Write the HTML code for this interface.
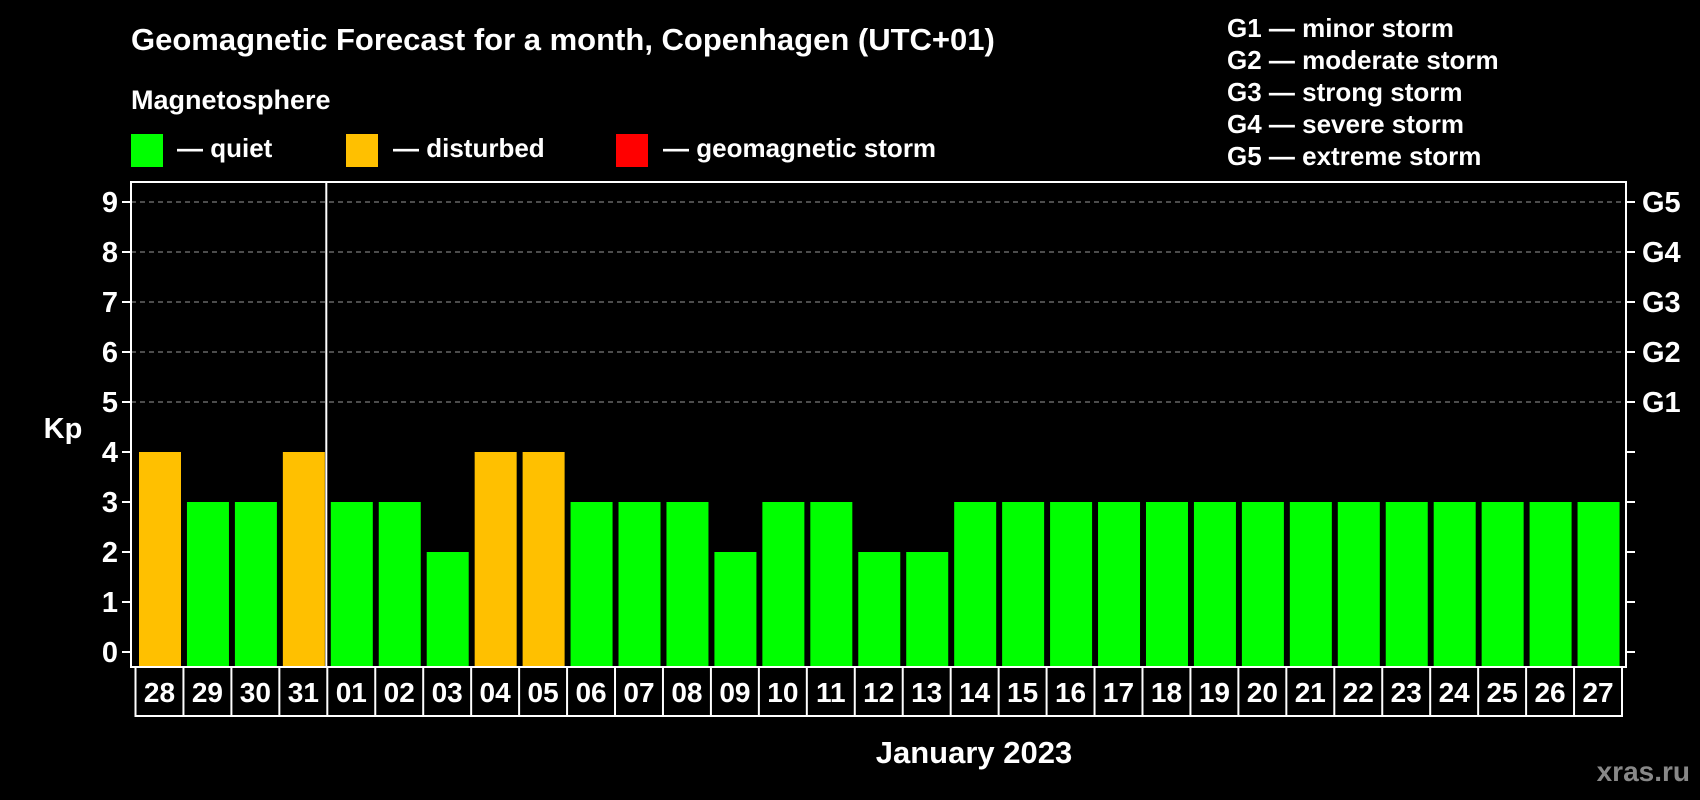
<!DOCTYPE html>
<html><head><meta charset="utf-8"><style>
html,body{margin:0;padding:0;background:#000;}
svg{display:block;font-family:"Liberation Sans",Arial,sans-serif;font-weight:bold;}
</style></head><body>
<svg id="chart" width="1700" height="800" viewBox="0 0 1700 800">
<rect x="0" y="0" width="1700" height="800" fill="#000"/>
<text x="131" y="50" fill="#fff" font-size="31">Geomagnetic Forecast for a month, Copenhagen (UTC+01)</text>
<text x="131" y="109" fill="#fff" font-size="27">Magnetosphere</text>
<g><rect x="131" y="134" width="32" height="33" fill="#00ff00"/><text x="177" y="157" fill="#fff" font-size="26">— quiet</text></g>
<g><rect x="346" y="134" width="32" height="33" fill="#ffc000"/><text x="393" y="157" fill="#fff" font-size="26">— disturbed</text></g>
<g><rect x="616" y="134" width="32" height="33" fill="#ff0000"/><text x="663" y="157" fill="#fff" font-size="26">— geomagnetic storm</text></g>
<g fill="#fff" font-size="26">
<text x="1227" y="37">G1 — minor storm</text>
<text x="1227" y="69">G2 — moderate storm</text>
<text x="1227" y="101">G3 — strong storm</text>
<text x="1227" y="133">G4 — severe storm</text>
<text x="1227" y="165">G5 — extreme storm</text>
</g>
<text x="63" y="438" fill="#fff" font-size="29" text-anchor="middle">Kp</text>
<text x="974" y="763" fill="#fff" font-size="31" text-anchor="middle">January 2023</text>
<text x="1690" y="781" fill="#888" font-size="28" text-anchor="end">xras.ru</text>
<g id="grid"></g><g id="bars"></g><g id="axes"></g>
</svg>
<script>
const days = ["28","29","30","31","01","02","03","04","05","06","07","08","09","10","11","12","13","14","15","16","17","18","19","20","21","22","23","24","25","26","27"];
const kpValues = [4,3,3,4,3,3,2,4,4,3,3,3,2,3,3,2,2,3,3,3,3,3,3,3,3,3,3,3,3,3,3];
const yTicks = [0,1,2,3,4,5,6,7,8,9];
const gLabels = ["G1","G2","G3","G4","G5"];
const gLevels = [5,6,7,8,9];
const NS="http://www.w3.org/2000/svg";
const L=131,R=1626,T=182,B=667;
function y(v){return 652-v*50;}
const slotL=135.5,slotW=(1622-135.5)/days.length;
function x(i){return slotL+i*slotW;}
function mk(tag,attrs,parent){const e=document.createElementNS(NS,tag);for(const k in attrs)e.setAttribute(k,attrs[k]);parent.appendChild(e);return e;}
const grid=document.getElementById('grid'),bars=document.getElementById('bars'),axes=document.getElementById('axes');
yTicks.forEach(v=>{
  if(v>=5){const g=mk('line',{x1:L,x2:R,y1:y(v),y2:y(v),stroke:'#999','stroke-width':1,'stroke-dasharray':'5,4'},grid);
  
  }
  const t=mk('line',{x1:L-9,x2:L,y1:y(v),y2:y(v),stroke:'#fff','stroke-width':2},axes);
  
  
  const t2=mk('line',{x1:R,x2:R+9,y1:y(v),y2:y(v),stroke:'#fff','stroke-width':2},axes);
  
  
  const lb=mk('text',{x:L-13,y:y(v)+10,fill:'#fff','font-size':29,'text-anchor':'end'},axes);
  lb.textContent=v;
  
  
});
gLabels.forEach((g,i)=>{
  const t=mk('text',{x:1642,y:y(gLevels[i])+10,fill:'#fff','font-size':29},axes);
  t.textContent=g;
  
  
});
kpValues.forEach((v,i)=>{
  const c=v>=5?'#ff0000':(v>=4?'#ffc000':'#00ff00');
  const b=mk('rect',{x:x(i)+3.5,y:y(v),width:42,height:B-y(v)-1,fill:c},bars);
  
  
});
const frame=mk('rect',{x:L,y:T,width:R-L,height:B-T,fill:'none',stroke:'#fff','stroke-width':2},axes);


const div=mk('line',{x1:x(4)-1,x2:x(4)-1,y1:T,y2:B,stroke:'#fff','stroke-width':2},axes);


for(let i=0;i<=days.length;i++){
  const l=mk('line',{x1:x(i),x2:x(i),y1:B+1,y2:716,stroke:'#fff','stroke-width':2},axes);
  
  
}
const bl=mk('line',{x1:slotL-1,x2:1623,y1:716,y2:716,stroke:'#fff','stroke-width':2},axes);


days.forEach((d,i)=>{
  const t=mk('text',{x:x(i)+slotW/2,y:702,fill:'#fff','font-size':28,'text-anchor':'middle'},axes);
  t.textContent=d;
  
  
});
</script>
</body></html>
